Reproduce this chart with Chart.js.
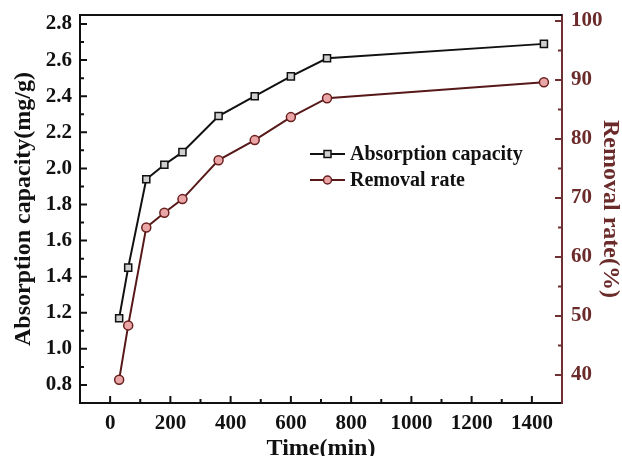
<!DOCTYPE html>
<html>
<head>
<meta charset="utf-8">
<script src="https://cdn.jsdelivr.net/npm/chart.js@4.4.1/dist/chart.umd.min.js"></script>
<style>
  html, body { margin: 0; padding: 0; background: #fff; }
  canvas { display: block; }
</style>
</head>
<body>
<canvas id="myChart" width="622" height="456"></canvas>
<script>
const timeMin = [30, 60, 120, 180, 240, 360, 480, 600, 720, 1440];
const absorption = [1.17, 1.45, 1.94, 2.02, 2.09, 2.29, 2.40, 2.51, 2.61, 2.69];
const removal = [39.2, 48.4, 65.0, 67.5, 69.8, 76.4, 79.8, 83.7, 86.9, 89.6];

const xTicks = [0, 200, 400, 600, 800, 1000, 1200, 1400];
const leftTicks = [0.8, 1.0, 1.2, 1.4, 1.6, 1.8, 2.0, 2.2, 2.4, 2.6, 2.8];
const rightTicks = [40, 50, 60, 70, 80, 90, 100];

const serif = "'Liberation Serif', 'Times New Roman', serif";
const maroon = '#6b2b2b';
const maroonLine = '#561818';

function toPoints(ys) {
  return timeMin.map((t, i) => ({ x: t, y: ys[i] }));
}

function fixTicks(values) {
  return scale => { scale.ticks = values.map(v => ({ value: v })); };
}

function noPad(size) {
  return s => {
    if (s.axis === 'x') s.height = size; else s.width = size;
    s.paddingTop = 0; s.paddingBottom = 0; s.paddingLeft = 0; s.paddingRight = 0;
  };
}

// inward major + minor ticks, top border, legend
const frame = {
  id: 'frame',
  afterDraw(chart) {
    const ctx = chart.ctx;
    const a = chart.chartArea;
    ctx.save();

    const marks = (scale, majors, step) => {
      const out = [];
      majors.forEach(v => out.push([v, 7], [v - step / 2, 4], [v + step / 2, 4]));
      const lo = scale.min + step * 0.01, hi = scale.max - step * 0.01;
      return out.filter(m => m[0] > lo && m[0] < hi);
    };

    const sx = chart.scales.x, sy = chart.scales.y, sr = chart.scales.y1;
    ctx.lineWidth = 2;

    ctx.strokeStyle = '#111';
    ctx.beginPath();
    marks(sx, xTicks, 200).forEach(([v, len]) => {
      const p = sx.getPixelForValue(v);
      ctx.moveTo(p, a.bottom);
      ctx.lineTo(p, a.bottom - len);
    });
    marks(sy, leftTicks, 0.2).forEach(([v, len]) => {
      const p = sy.getPixelForValue(v);
      ctx.moveTo(a.left, p);
      ctx.lineTo(a.left + len, p);
    });
    ctx.moveTo(a.left - 1, a.top);
    ctx.lineTo(a.right, a.top);
    ctx.stroke();

    ctx.strokeStyle = '#6e3030';
    ctx.beginPath();
    marks(sr, rightTicks, 10).forEach(([v, len]) => {
      const p = sr.getPixelForValue(v);
      ctx.moveTo(a.right, p);
      ctx.lineTo(a.right - len, p);
    });
    ctx.stroke();

    // legend
    ctx.font = 'bold 20px ' + serif;
    ctx.textBaseline = 'middle';
    ctx.textAlign = 'left';
    chart.data.datasets.forEach((ds, i) => {
      const y = 154 + i * 26;
      const x0 = 310, x1 = 345, xm = (x0 + x1) / 2;
      ctx.strokeStyle = ds.borderColor;
      ctx.lineWidth = 2;
      ctx.beginPath();
      ctx.moveTo(x0, y); ctx.lineTo(x1, y);
      ctx.stroke();
      ctx.fillStyle = ds.pointBackgroundColor;
      ctx.strokeStyle = ds.pointBorderColor;
      ctx.lineWidth = 1.5;
      ctx.beginPath();
      if (ds.pointStyle === 'rect') {
        ctx.rect(xm - 3.5, y - 3.5, 7, 7);
      } else {
        ctx.arc(xm, y, 4, 0, Math.PI * 2);
      }
      ctx.fill();
      ctx.stroke();
      ctx.fillStyle = '#111';
      ctx.fillText(ds.label, 350, y + 1);
    });
    ctx.restore();
  }
};

new Chart(document.getElementById('myChart'), {
  type: 'line',
  data: {
    datasets: [{
      label: 'Absorption capacity',
      data: toPoints(absorption),
      yAxisID: 'y',
      borderColor: '#111',
      borderWidth: 2,
      pointStyle: 'rect',
      pointRadius: 5,
      pointBackgroundColor: '#cfcfcf',
      pointBorderColor: '#111',
      pointBorderWidth: 1.5,
      tension: 0,
    }, {
      label: 'Removal rate',
      data: toPoints(removal),
      yAxisID: 'y1',
      borderColor: maroonLine,
      borderWidth: 2,
      pointStyle: 'circle',
      pointRadius: 4.5,
      pointBackgroundColor: '#eaa6a6',
      pointBorderColor: '#6a1f1f',
      pointBorderWidth: 1.5,
      tension: 0,
    }]
  },
  options: {
    responsive: false,
    animation: false,
    layout: { padding: { top: 15, left: 0, right: 0, bottom: 0 } },
    plugins: {
      legend: { display: false },
      tooltip: { enabled: false }
    },
    scales: {
      x: {
        type: 'linear',
        min: -100,
        max: 1500,
        afterBuildTicks: fixTicks(xTicks),
        afterFit: noPad(53),
        grid: { display: false, drawTicks: false },
        border: { color: '#111', width: 2 },
        ticks: {
          padding: 8,
          color: '#111',
          font: { family: serif, size: 21, weight: 'bold' },
          maxRotation: 0,
          callback: v => String(v)
        },
        title: {
          display: true,
          text: 'Time(min)',
          color: '#111',
          font: { family: serif, size: 24, weight: 'bold', lineHeight: 0.6 },
          padding: { top: 0, bottom: 0 }
        }
      },
      y: {
        type: 'linear',
        position: 'left',
        min: 0.7,
        max: 2.85,
        afterBuildTicks: fixTicks(leftTicks),
        afterFit: noPad(80),
        grid: { display: false, drawTicks: false },
        border: { color: '#111', width: 2 },
        ticks: {
          padding: 8,
          color: '#111',
          font: { family: serif, size: 21, weight: 'bold' },
          callback: v => v.toFixed(1)
        },
        title: {
          display: true,
          text: 'Absorption capacity(mg/g)',
          color: '#111',
          font: { family: serif, size: 24, weight: 'bold', lineHeight: 1.2 },
          padding: { top: 9, bottom: 0 }
        }
      },
      y1: {
        type: 'linear',
        position: 'right',
        min: 35.25,
        max: 101,
        afterBuildTicks: fixTicks(rightTicks),
        afterFit: noPad(60),
        grid: { display: false, drawTicks: false },
        border: { color: '#6e3030', width: 2 },
        ticks: {
          padding: 9,
          color: maroon,
          font: { family: serif, size: 21, weight: 'bold' },
          callback: v => String(v)
        },
        title: {
          display: true,
          text: 'Removal rate(%)',
          color: maroon,
          font: { family: serif, size: 24, weight: 'bold', lineHeight: 1.0 },
          padding: { top: 0, bottom: 0 }
        }
      }
    }
  },
  plugins: [frame]
});
</script>
</body>
</html>
